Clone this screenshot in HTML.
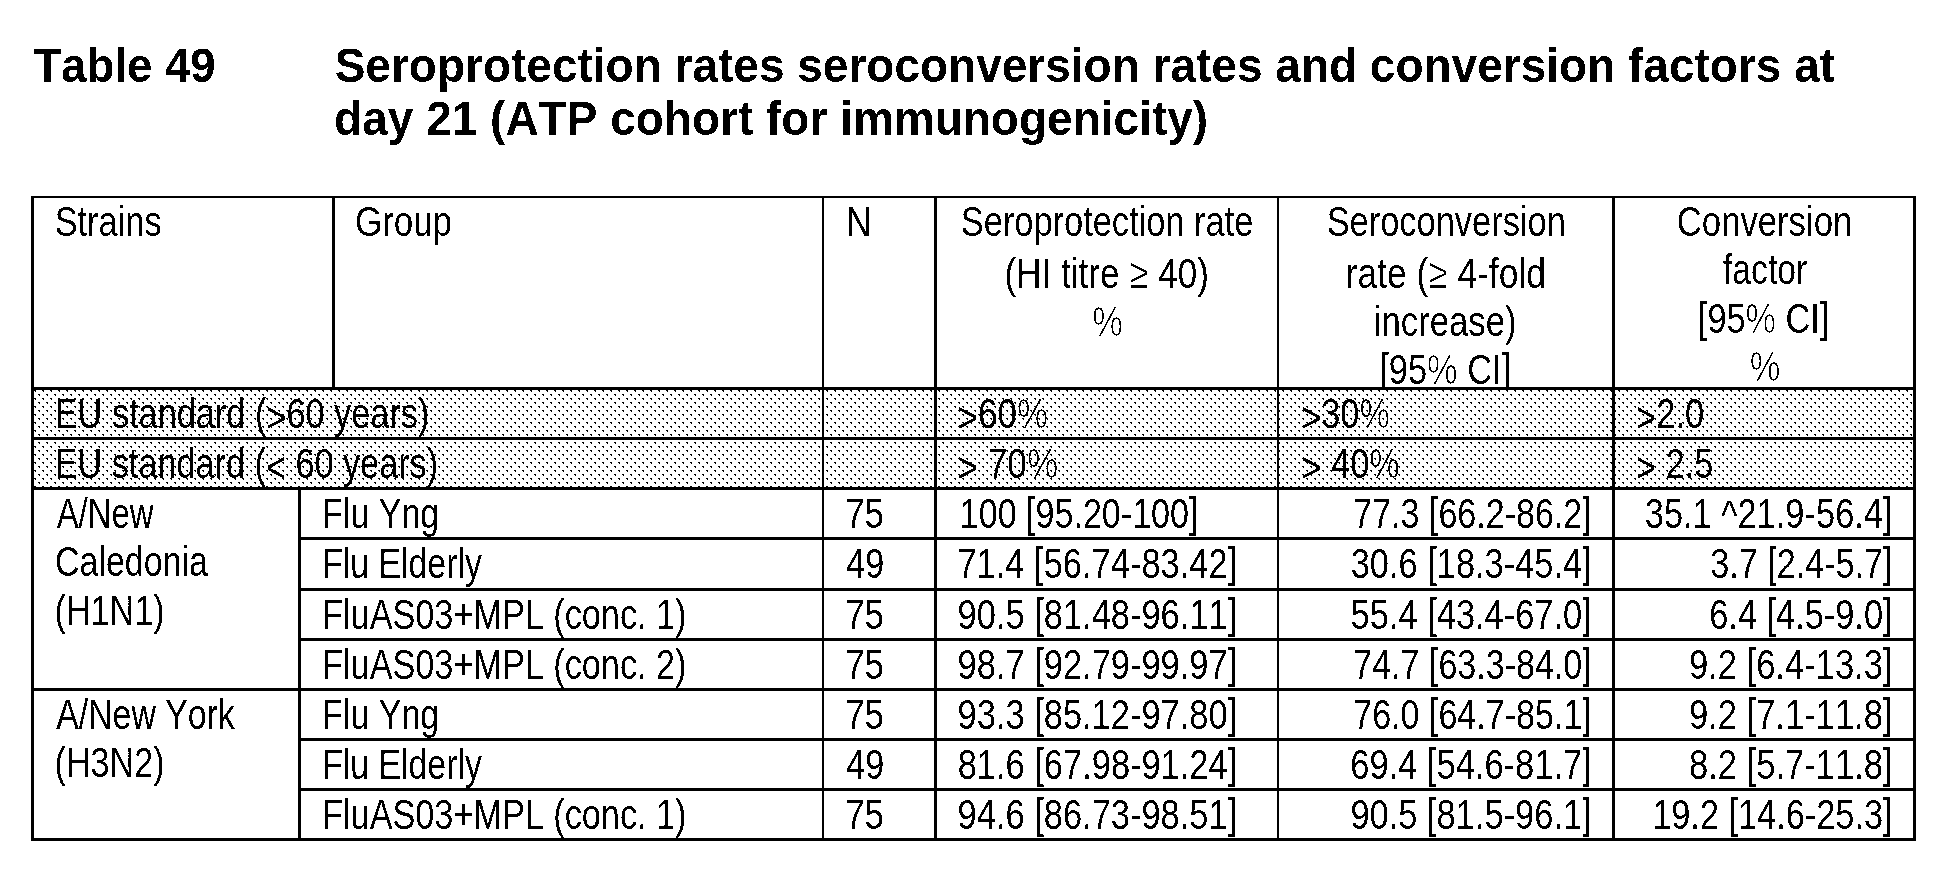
<!DOCTYPE html>
<html lang="en"><head><meta charset="utf-8"><title>Table 49</title>
<style>
html,body{margin:0;padding:0;background:#fff}
body{width:1949px;height:874px;overflow:hidden}
svg{display:block}
text{font-family:"Liberation Sans",Arial,Helvetica,sans-serif;font-size:42.5px;fill:#000;font-kerning:none;white-space:pre}
text.b{font-weight:bold;font-size:48px}
tspan.t{stroke:#fff;stroke-width:0.7px}
tspan.ts{stroke:url(#dots);stroke-width:0.7px}
</style></head><body>
<svg width="1949" height="874" viewBox="0 0 1949 874">
<defs>
<pattern id="dots" x="0" y="0" width="8" height="8" patternUnits="userSpaceOnUse" shape-rendering="crispEdges">
<rect width="8" height="8" fill="#fff"/>
<rect x="2" y="6" width="2" height="1"/><rect x="3" y="7" width="1" height="1"/>
<rect x="6" y="2" width="2" height="1"/><rect x="7" y="3" width="1" height="1"/>
</pattern>
<filter id="bw" x="0" y="0" width="1949" height="874" filterUnits="userSpaceOnUse" color-interpolation-filters="sRGB">
<feComponentTransfer><feFuncR type="discrete" tableValues="0 1"/><feFuncG type="discrete" tableValues="0 1"/><feFuncB type="discrete" tableValues="0 1"/><feFuncA type="discrete" tableValues="0 0 0 0 0 1 1 1 1 1"/></feComponentTransfer>
</filter>
<clipPath id="hc"><rect x="1280" y="198" width="332" height="189"/></clipPath>
</defs>
<rect width="1949" height="874" fill="#fff"/>
<g shape-rendering="crispEdges">
<rect x="34" y="390" width="1879" height="97" fill="url(#dots)"/>
<rect x="31" y="196" width="3" height="645" fill="#000"/>
<rect x="1913" y="196" width="3" height="645" fill="#000"/>
<rect x="31" y="196" width="1885" height="2" fill="#000"/>
<rect x="31" y="838" width="1885" height="3" fill="#000"/>
<rect x="31" y="387" width="1882" height="3" fill="#000"/>
<rect x="31" y="437" width="1882" height="3" fill="#000"/>
<rect x="31" y="487" width="1882" height="3" fill="#000"/>
<rect x="298" y="537" width="1615" height="3" fill="#000"/>
<rect x="298" y="588" width="1615" height="3" fill="#000"/>
<rect x="298" y="638" width="1615" height="3" fill="#000"/>
<rect x="31" y="688" width="1882" height="3" fill="#000"/>
<rect x="298" y="738" width="1615" height="3" fill="#000"/>
<rect x="298" y="788" width="1615" height="3" fill="#000"/>
<rect x="332" y="196" width="3" height="191" fill="#000"/>
<rect x="298" y="487" width="3" height="351" fill="#000"/>
<rect x="822" y="196" width="2" height="642" fill="#000"/>
<rect x="934" y="196" width="3" height="642" fill="#000"/>
<rect x="1277" y="196" width="2" height="642" fill="#000"/>
<rect x="1612" y="196" width="3" height="642" fill="#000"/>
</g>
<g filter="url(#bw)">
<text x="33.49" y="82" textLength="182.10" lengthAdjust="spacingAndGlyphs" class="b">Table 49</text>
<text x="334.67" y="82" textLength="1500.39" lengthAdjust="spacingAndGlyphs" class="b">Seroprotection rates seroconversion rates and conversion factors at</text>
<text x="334.11" y="135.3" textLength="873.98" lengthAdjust="spacingAndGlyphs" class="b">day 21 (ATP cohort for immunogenicity)</text>
<text x="54.64" y="236" textLength="107.00" lengthAdjust="spacingAndGlyphs">Strains</text>
<text x="355.05" y="236" textLength="96.92" lengthAdjust="spacingAndGlyphs">Group</text>
<text x="845.76" y="236" textLength="25.86" lengthAdjust="spacingAndGlyphs">N</text>
<text x="960.84" y="236" textLength="292.49" lengthAdjust="spacingAndGlyphs">Seroprotection rate</text>
<text x="1004.52" y="288" textLength="204.45" lengthAdjust="spacingAndGlyphs">(HI titre <tspan class="t">≥</tspan> 40)</text>
<text x="1092.37" y="336" textLength="30.66" lengthAdjust="spacingAndGlyphs"><tspan class="t">%</tspan></text>
<text x="1326.64" y="236" textLength="239.20" lengthAdjust="spacingAndGlyphs">Seroconversion</text>
<text x="1345.65" y="288" textLength="200.23" lengthAdjust="spacingAndGlyphs">rate (<tspan class="t">≥</tspan> 4-fold</text>
<text x="1373.88" y="336" textLength="142.67" lengthAdjust="spacingAndGlyphs">increase)</text>
<g clip-path="url(#hc)">
<text x="1379.25" y="384" textLength="131.80" lengthAdjust="spacingAndGlyphs"><tspan dy="-0.8">[</tspan><tspan dy="0.8">95</tspan><tspan class="t">%</tspan> CI<tspan dy="-0.8">]</tspan></text>
</g>
<text x="1676.84" y="236" textLength="175.41" lengthAdjust="spacingAndGlyphs">Conversion</text>
<text x="1723.02" y="284" textLength="84.13" lengthAdjust="spacingAndGlyphs">factor</text>
<text x="1697.85" y="333" textLength="131.59" lengthAdjust="spacingAndGlyphs"><tspan dy="-0.8">[</tspan><tspan dy="0.8">95</tspan><tspan class="t">%</tspan> CI<tspan dy="-0.8">]</tspan></text>
<text x="1749.67" y="381" textLength="30.66" lengthAdjust="spacingAndGlyphs"><tspan class="t">%</tspan></text>
<text x="54.69" y="428" textLength="374.74" lengthAdjust="spacingAndGlyphs">EU standard (<tspan dy="3.5">&gt;</tspan><tspan dy="-3.5">60 years)</tspan></text>
<text x="957.47" y="428" textLength="90.68" lengthAdjust="spacingAndGlyphs"><tspan dy="3.5">&gt;</tspan><tspan dy="-3.5">60</tspan><tspan class="ts">%</tspan></text>
<text x="1301.31" y="428" textLength="88.61" lengthAdjust="spacingAndGlyphs"><tspan dy="3.5">&gt;</tspan><tspan dy="-3.5">30</tspan><tspan class="ts">%</tspan></text>
<text x="1636.10" y="428" textLength="68.05" lengthAdjust="spacingAndGlyphs"><tspan dy="3.5">&gt;</tspan><tspan dy="-3.5">2.0</tspan></text>
<text x="54.69" y="478" textLength="383.43" lengthAdjust="spacingAndGlyphs">EU standard (<tspan dy="3.5">&lt;</tspan><tspan dy="-3.5"> 60 years)</tspan></text>
<text x="957.47" y="478" textLength="100.69" lengthAdjust="spacingAndGlyphs"><tspan dy="3.5">&gt;</tspan><tspan dy="-3.5"> 70</tspan><tspan class="ts">%</tspan></text>
<text x="1301.30" y="478" textLength="98.63" lengthAdjust="spacingAndGlyphs"><tspan dy="3.5">&gt;</tspan><tspan dy="-3.5"> 40</tspan><tspan class="ts">%</tspan></text>
<text x="1636.11" y="478" textLength="77.13" lengthAdjust="spacingAndGlyphs"><tspan dy="3.5">&gt;</tspan><tspan dy="-3.5"> 2.5</tspan></text>
<text x="56.64" y="528" textLength="96.98" lengthAdjust="spacingAndGlyphs">A/New</text>
<text x="54.98" y="576" textLength="152.92" lengthAdjust="spacingAndGlyphs">Caledonia</text>
<text x="54.58" y="625" textLength="109.93" lengthAdjust="spacingAndGlyphs">(H1N1)</text>
<text x="56.13" y="729" textLength="178.72" lengthAdjust="spacingAndGlyphs">A/New York</text>
<text x="54.58" y="777" textLength="109.93" lengthAdjust="spacingAndGlyphs">(H3N2)</text>
<text x="322.11" y="528" textLength="117.08" lengthAdjust="spacingAndGlyphs">Flu Yng</text>
<text x="845.21" y="528" textLength="38.75" lengthAdjust="spacingAndGlyphs">75</text>
<text x="959.81" y="528" textLength="238.62" lengthAdjust="spacingAndGlyphs">100 <tspan dy="-0.8">[</tspan><tspan dy="0.8">95.20-100</tspan><tspan dy="-0.8">]</tspan></text>
<text x="1353.25" y="528" textLength="238.47" lengthAdjust="spacingAndGlyphs">77.3 <tspan dy="-0.8">[</tspan><tspan dy="0.8">66.2-86.2</tspan><tspan dy="-0.8">]</tspan></text>
<text x="1644.79" y="528" textLength="247.77" lengthAdjust="spacingAndGlyphs">35.1 <tspan dy="2">^</tspan><tspan dy="-2">21.9-56.4</tspan><tspan dy="-0.8">]</tspan></text>
<text x="322.13" y="578" textLength="159.74" lengthAdjust="spacingAndGlyphs">Flu Elderly</text>
<text x="846.22" y="578" textLength="37.90" lengthAdjust="spacingAndGlyphs">49</text>
<text x="957.43" y="578" textLength="279.82" lengthAdjust="spacingAndGlyphs">71.4 <tspan dy="-0.8">[</tspan><tspan dy="0.8">56.74-83.42</tspan><tspan dy="-0.8">]</tspan></text>
<text x="1350.69" y="578" textLength="241.06" lengthAdjust="spacingAndGlyphs">30.6 <tspan dy="-0.8">[</tspan><tspan dy="0.8">18.3-45.4</tspan><tspan dy="-0.8">]</tspan></text>
<text x="1710.20" y="578" textLength="182.34" lengthAdjust="spacingAndGlyphs">3.7 <tspan dy="-0.8">[</tspan><tspan dy="0.8">2.4-5.7</tspan><tspan dy="-0.8">]</tspan></text>
<text x="322.09" y="629" textLength="364.43" lengthAdjust="spacingAndGlyphs">FluAS03+MPL (conc. 1)</text>
<text x="845.21" y="629" textLength="38.75" lengthAdjust="spacingAndGlyphs">75</text>
<text x="957.59" y="629" textLength="279.67" lengthAdjust="spacingAndGlyphs">90.5 <tspan dy="-0.8">[</tspan><tspan dy="0.8">81.48-96.11</tspan><tspan dy="-0.8">]</tspan></text>
<text x="1350.62" y="629" textLength="241.13" lengthAdjust="spacingAndGlyphs">55.4 <tspan dy="-0.8">[</tspan><tspan dy="0.8">43.4-67.0</tspan><tspan dy="-0.8">]</tspan></text>
<text x="1709.26" y="629" textLength="183.29" lengthAdjust="spacingAndGlyphs">6.4 <tspan dy="-0.8">[</tspan><tspan dy="0.8">4.5-9.0</tspan><tspan dy="-0.8">]</tspan></text>
<text x="322.09" y="679" textLength="364.43" lengthAdjust="spacingAndGlyphs">FluAS03+MPL (conc. 2)</text>
<text x="845.21" y="679" textLength="38.75" lengthAdjust="spacingAndGlyphs">75</text>
<text x="957.59" y="679" textLength="279.67" lengthAdjust="spacingAndGlyphs">98.7 <tspan dy="-0.8">[</tspan><tspan dy="0.8">92.79-99.97</tspan><tspan dy="-0.8">]</tspan></text>
<text x="1353.25" y="679" textLength="238.47" lengthAdjust="spacingAndGlyphs">74.7 <tspan dy="-0.8">[</tspan><tspan dy="0.8">63.3-84.0</tspan><tspan dy="-0.8">]</tspan></text>
<text x="1688.88" y="679" textLength="203.68" lengthAdjust="spacingAndGlyphs">9.2 <tspan dy="-0.8">[</tspan><tspan dy="0.8">6.4-13.3</tspan><tspan dy="-0.8">]</tspan></text>
<text x="322.11" y="729" textLength="117.08" lengthAdjust="spacingAndGlyphs">Flu Yng</text>
<text x="845.21" y="729" textLength="38.75" lengthAdjust="spacingAndGlyphs">75</text>
<text x="957.59" y="729" textLength="279.67" lengthAdjust="spacingAndGlyphs">93.3 <tspan dy="-0.8">[</tspan><tspan dy="0.8">85.12-97.80</tspan><tspan dy="-0.8">]</tspan></text>
<text x="1353.25" y="729" textLength="238.47" lengthAdjust="spacingAndGlyphs">76.0 <tspan dy="-0.8">[</tspan><tspan dy="0.8">64.7-85.1</tspan><tspan dy="-0.8">]</tspan></text>
<text x="1688.88" y="729" textLength="203.68" lengthAdjust="spacingAndGlyphs">9.2 <tspan dy="-0.8">[</tspan><tspan dy="0.8">7.1-11.8</tspan><tspan dy="-0.8">]</tspan></text>
<text x="322.13" y="779" textLength="159.74" lengthAdjust="spacingAndGlyphs">Flu Elderly</text>
<text x="846.22" y="779" textLength="37.90" lengthAdjust="spacingAndGlyphs">49</text>
<text x="957.70" y="779" textLength="279.55" lengthAdjust="spacingAndGlyphs">81.6 <tspan dy="-0.8">[</tspan><tspan dy="0.8">67.98-91.24</tspan><tspan dy="-0.8">]</tspan></text>
<text x="1350.25" y="779" textLength="241.51" lengthAdjust="spacingAndGlyphs">69.4 <tspan dy="-0.8">[</tspan><tspan dy="0.8">54.6-81.7</tspan><tspan dy="-0.8">]</tspan></text>
<text x="1689.00" y="779" textLength="203.56" lengthAdjust="spacingAndGlyphs">8.2 <tspan dy="-0.8">[</tspan><tspan dy="0.8">5.7-11.8</tspan><tspan dy="-0.8">]</tspan></text>
<text x="322.09" y="829" textLength="364.43" lengthAdjust="spacingAndGlyphs">FluAS03+MPL (conc. 1)</text>
<text x="845.21" y="829" textLength="38.75" lengthAdjust="spacingAndGlyphs">75</text>
<text x="957.59" y="829" textLength="279.67" lengthAdjust="spacingAndGlyphs">94.6 <tspan dy="-0.8">[</tspan><tspan dy="0.8">86.73-98.51</tspan><tspan dy="-0.8">]</tspan></text>
<text x="1350.38" y="829" textLength="241.37" lengthAdjust="spacingAndGlyphs">90.5 <tspan dy="-0.8">[</tspan><tspan dy="0.8">81.5-96.1</tspan><tspan dy="-0.8">]</tspan></text>
<text x="1652.19" y="829" textLength="240.36" lengthAdjust="spacingAndGlyphs">19.2 <tspan dy="-0.8">[</tspan><tspan dy="0.8">14.6-25.3</tspan><tspan dy="-0.8">]</tspan></text>
</g>
</svg>
</body></html>
